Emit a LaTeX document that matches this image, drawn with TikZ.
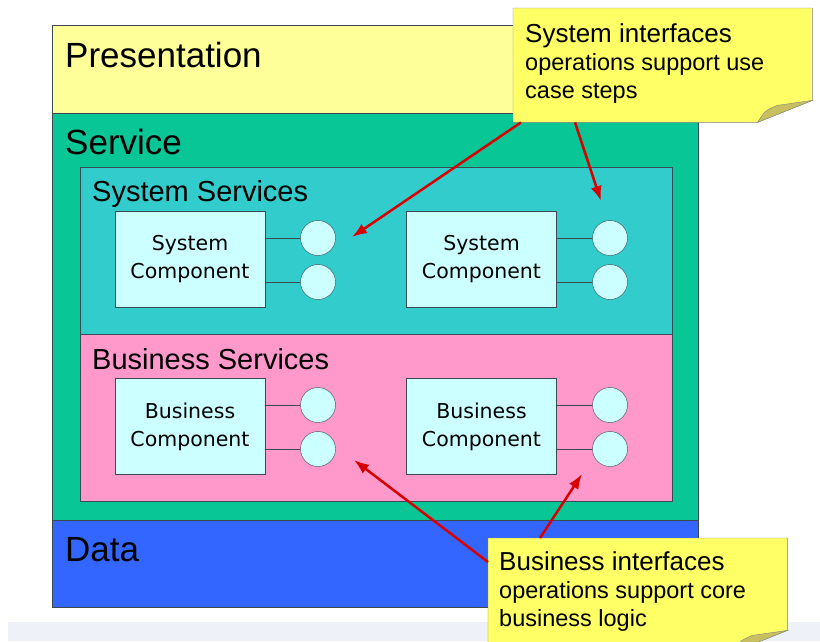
\documentclass[tikz,border=0pt]{standalone}
\usepackage{fontspec}
\setmainfont{Liberation Sans}
\newfontfamily\compfont{DejaVu Sans}
\usetikzlibrary{positioning,arrows.meta}
\definecolor{presyellow}{HTML}{FFFF99}
\definecolor{servgreen}{HTML}{08C695}
\definecolor{systeal}{HTML}{33CCCC}
\definecolor{buspink}{HTML}{FF99CC}
\definecolor{datablue}{HTML}{3366FF}
\definecolor{compcyan}{HTML}{CCFFFF}
\definecolor{noteyellow}{HTML}{FFFF66}
\definecolor{notefold}{HTML}{C8C060}
\definecolor{bandgray}{HTML}{EEF2F8}
\definecolor{edgegray}{HTML}{3A4A50}
\begin{document}
\begin{tikzpicture}[x=1pt,y=-1pt,
    layerlabel/.style={anchor=base west,inner sep=0pt,font=\fontsize{35}{40}\selectfont},
    boxlabel/.style={anchor=base west,inner sep=0pt,font=\fontsize{29}{34}\selectfont},
    comp/.style={draw=edgegray,fill=compcyan,minimum width=150pt,minimum height=96pt,inner sep=0pt,align=center,font=\compfont\fontsize{20.5}{28}\selectfont},
    iface/.style={circle,draw=edgegray,fill=compcyan,minimum size=35pt,inner sep=0pt},
    notebox/.style={anchor=north west,minimum width=299pt,minimum height=114pt,inner sep=0pt},
    notetext/.style={anchor=base west,inner sep=0pt,align=left,font=\fontsize{23.5}{28}\selectfont},
    pointer/.style={red!85!black,line width=2.5pt,-{Latex[length=15pt,width=11pt]}}]
    \useasboundingbox (0,0) rectangle (820,641);
    \fill[bandgray] (8,622) rectangle (820,641);
    %% Layers
    \draw[edgegray,fill=presyellow] (52,25) rectangle (698,113);
    \draw[edgegray,fill=servgreen] (52,113) rectangle (698,520);
    \draw[edgegray,fill=datablue] (52,520) rectangle (698,607);
    \node[layerlabel] (pres) at (65,67) {Presentation};
    \node[layerlabel] (serv) at (65,154) {Service};
    \node[layerlabel] (data) at (65,561) {Data};
    %% System services
    \draw[edgegray,fill=systeal] (80,167) rectangle (672,334);
    \node[boxlabel] (sysserv) at (92,201) {System Services};
    \node[comp] (sc1) at (190,259.5) {System\\Component};
    \node[comp] (sc2) at (481.5,259.5) {System\\Component};
    \node[iface] (sc1a) at (318,238) {};
    \node[iface] (sc1b) at (318,282) {};
    \node[iface] (sc2a) at (610,238) {};
    \node[iface] (sc2b) at (610,282) {};
    %% Business services
    \draw[edgegray,fill=buspink] (80,334) rectangle (672,501);
    \node[boxlabel] (busserv) at (92,369) {Business Services};
    \node[comp] (bc1) at (190,426.5) {Business\\Component};
    \node[comp] (bc2) at (481.5,426.5) {Business\\Component};
    \node[iface] (bc1a) at (318,405) {};
    \node[iface] (bc1b) at (318,449) {};
    \node[iface] (bc2a) at (610,405) {};
    \node[iface] (bc2b) at (610,449) {};
    %% Interface stems
    \foreach \c/\i in {sc1/sc1a,sc1/sc1b,sc2/sc2a,sc2/sc2b,bc1/bc1a,bc1/bc1b,bc2/bc2a,bc2/bc2b}
        \draw[edgegray,thick] (\c.east |- \i) -- (\i.west);
    %% Note 1
    \node[notebox] (note1) at (513,8) {};
    \draw[black!50,fill=noteyellow] (note1.north west) -- (note1.north east) -- ([yshift=22pt]note1.south east)
        -- ([xshift=-55pt]note1.south east) -- (note1.south west) -- cycle;
    \fill[notefold,draw=black!50] ([xshift=-55pt]note1.south east) .. controls ([xshift=-47pt,yshift=12pt]note1.south east) .. ([xshift=-35pt,yshift=17pt]note1.south east) -- ([yshift=22pt]note1.south east) -- cycle;
    \node[notetext] (note1text) at (525,98)
        {{\fontsize{26}{28}\selectfont System interfaces}\\operations support use\\case steps};
    %% Note 2
    \node[notebox] (note2) at (488,538) {};
    \draw[black!50,fill=noteyellow] (note2.north west) -- (note2.north east) -- ([yshift=22pt]note2.south east)
        -- ([xshift=-55pt]note2.south east) -- (note2.south west) -- cycle;
    \fill[notefold,draw=black!50] ([xshift=-55pt]note2.south east) .. controls ([xshift=-47pt,yshift=12pt]note2.south east) .. ([xshift=-35pt,yshift=17pt]note2.south east) -- ([yshift=22pt]note2.south east) -- cycle;
    \node[notetext] (note2text) at (499,626)
        {{\fontsize{26}{28}\selectfont Business interfaces}\\operations support core\\business logic};
    %% Pointers
    \coordinate (tip1) at (352,237);
    \coordinate (tip2) at (601,201);
    \coordinate (tip3) at (354,460);
    \coordinate (tip4) at (582,474);
    \draw[pointer] ([xshift=8pt]note1.south west) -- (tip1);
    \draw[pointer] ([xshift=62pt]note1.south west) -- (tip2);
    \draw[pointer] ([yshift=-24pt]note2.north west) -- (tip3);
    \draw[pointer] ([xshift=52pt]note2.north west) -- (tip4);
\end{tikzpicture}
\end{document}
